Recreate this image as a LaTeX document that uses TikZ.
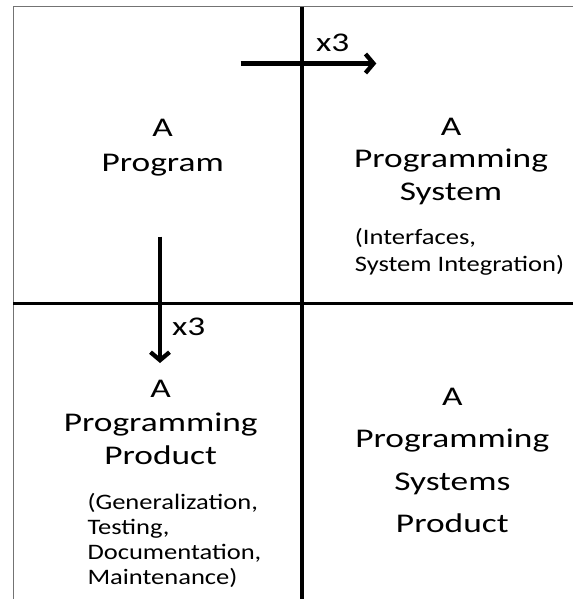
\documentclass[tikz,border=0pt]{standalone}
\usepackage{fontspec}
\usetikzlibrary{arrows.meta}
\newfontfamily\bigfont{Carlito}[FakeStretch=1.31]
\newfontfamily\smallfont{Carlito}[FakeStretch=1.2]
\tikzset{
	quadtext/.style={font=\bigfont\fontsize{27}{#1}\selectfont, align=center, inner sep=0pt, anchor=base},
	notetext/.style={font=\smallfont\fontsize{22.1}{#1}\selectfont, align=left, inner sep=0pt, anchor=base west},
	growth/.style={line width=4.3pt, -{Straight Barb[length=8pt, width=19pt]}},
	border/.style={line width=1.5pt, draw=black!55},
	divider/.style={line width=3.4pt},
}
\begin{document}
\begin{tikzpicture}[x=1pt, y=-1pt]
	\useasboundingbox (0,0) rectangle (573,599);
	
	%frame
	\draw[border] (13.3,599) -- (13.3,6.7) -- (573,6.7);
	\draw[divider] (302,6.7) -- (302,599);
	\draw[divider] (13.3,303.7) -- (573,303.7);
	
	%quadrants (anchored at the last baseline)
	\node[quadtext=35] (program) at (162.7,171.7) {A\\Program};
	\node[quadtext=32.5] (system) at (451,200) {A\\Programming\\System};
	\node[quadtext=33.4] (product) at (160.7,464.7) {A\\Programming\\Product};
	\node[quadtext=42.2] (sysProduct) at (452.3,532.3) {A\\Programming\\Systems\\Product};
	\node[notetext=27.4] (systemNote) at (354.7,271.7) {(Interfaces,\\System Integration)};
	\node[notetext=25] (productNote) at (87.3,584) {(Generalization,\\Testing,\\Documentation,\\Maintenance)};
	
	%arrows
	\coordinate (toSystemFrom) at (240.7,63.5);
	\coordinate (toSystemTo) at (376.3,63.5);
	\coordinate (toProductFrom) at (160,236.7);
	\coordinate (toProductTo) at (160,363);
	\draw[growth] (toSystemFrom) -- (toSystemTo);
	\draw[growth] (toProductFrom) -- (toProductTo);
	\node[quadtext=35] (systemTimes) at (332.7,51.7) {x3};
	\node[quadtext=35] (productTimes) at (188.7,335) {x3};
	
\end{tikzpicture}
\end{document}
